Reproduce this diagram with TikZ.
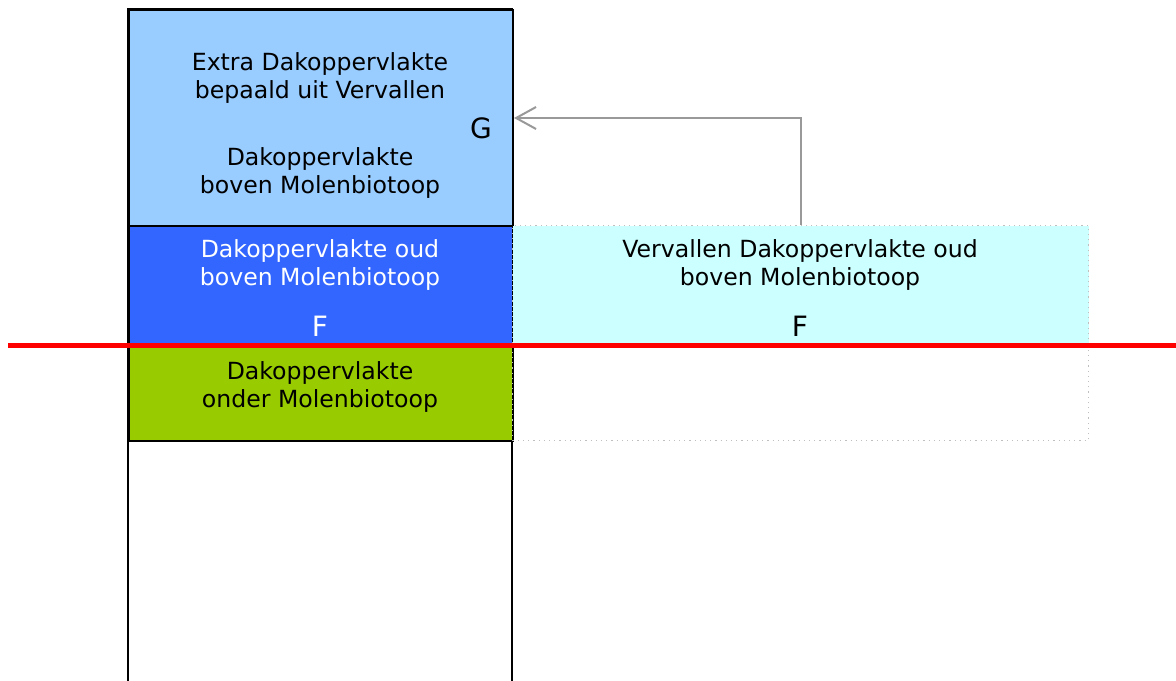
\documentclass[tikz,border=0pt]{standalone}
\usepackage{fontspec}
\setmainfont{DejaVu Sans}
\usepackage{tikz}
\usetikzlibrary{arrows.meta}

\definecolor{lichtblauw}{HTML}{99CCFF}
\definecolor{donkerblauw}{HTML}{3366FF}
\definecolor{groen}{HTML}{99CC00}
\definecolor{cyaan}{HTML}{CCFFFF}

\begin{document}
\begin{tikzpicture}[x=0.5pt,y=-0.5pt,
    vak/.style={draw=black,line width=1pt,inner sep=0pt,anchor=north west},
    vervalvak/.style={draw=black!25,dotted,line width=0.6pt,inner sep=0pt,anchor=north west},
    tekst/.style={align=center,font=\fontsize{11.8}{13.6}\selectfont},
    letter/.style={font=\fontsize{14}{16}\selectfont}]
        \useasboundingbox (0,0) rectangle (1176,680);
        \clip (0,0) rectangle (1176,680);

        % kolom links
        \draw[line width=1pt] (128,9) rectangle (512,700);
        \node[vak,fill=lichtblauw,minimum width=192pt,minimum height=108pt] (extra) at (128,9) {};
        \node[vak,fill=donkerblauw,minimum width=192pt,minimum height=60pt] (oud) at (128,225) {};
        \node[vak,fill=groen,minimum width=192pt,minimum height=47.5pt] (onder) at (128,345) {};

        % vervallen deel rechts
        \node[vervalvak,fill=cyaan,minimum width=288pt,minimum height=60pt] (vervallen) at (512,225) {};
        \node[vervalvak,minimum width=288pt,minimum height=47.5pt] (leeg) at (512,345) {};

        \begin{scope}[every node/.style={tekst}]
            \node (t1) at (320,78) {Extra Dakoppervlakte\\bepaald uit Vervallen};
            \node (t2) at (320,173) {Dakoppervlakte\\boven Molenbiotoop};
            \node[text=white] (t3) at (320,265) {Dakoppervlakte oud\\boven Molenbiotoop};
            \node (t4) at (800,265) {Vervallen Dakoppervlakte oud\\boven Molenbiotoop};
            \node (t5) at (320,387) {Dakoppervlakte\\onder Molenbiotoop};
        \end{scope}
        \node[letter] (g) at (481,128) {G};
        \node[letter,text=white] (f1) at (320,326) {F};
        \node[letter] (f2) at (800,326) {F};

        \draw[-{Straight Barb[length=10pt,width=11pt]},black!40,line width=1pt] (vervallen.north) |- (extra.east);

        % rode lijn
        \coordinate (rl) at (8,345);
        \coordinate (rr) at (1176,345);
        \draw[red,line width=2.5pt] (rl) -- (rr);
\end{tikzpicture}
\end{document}
